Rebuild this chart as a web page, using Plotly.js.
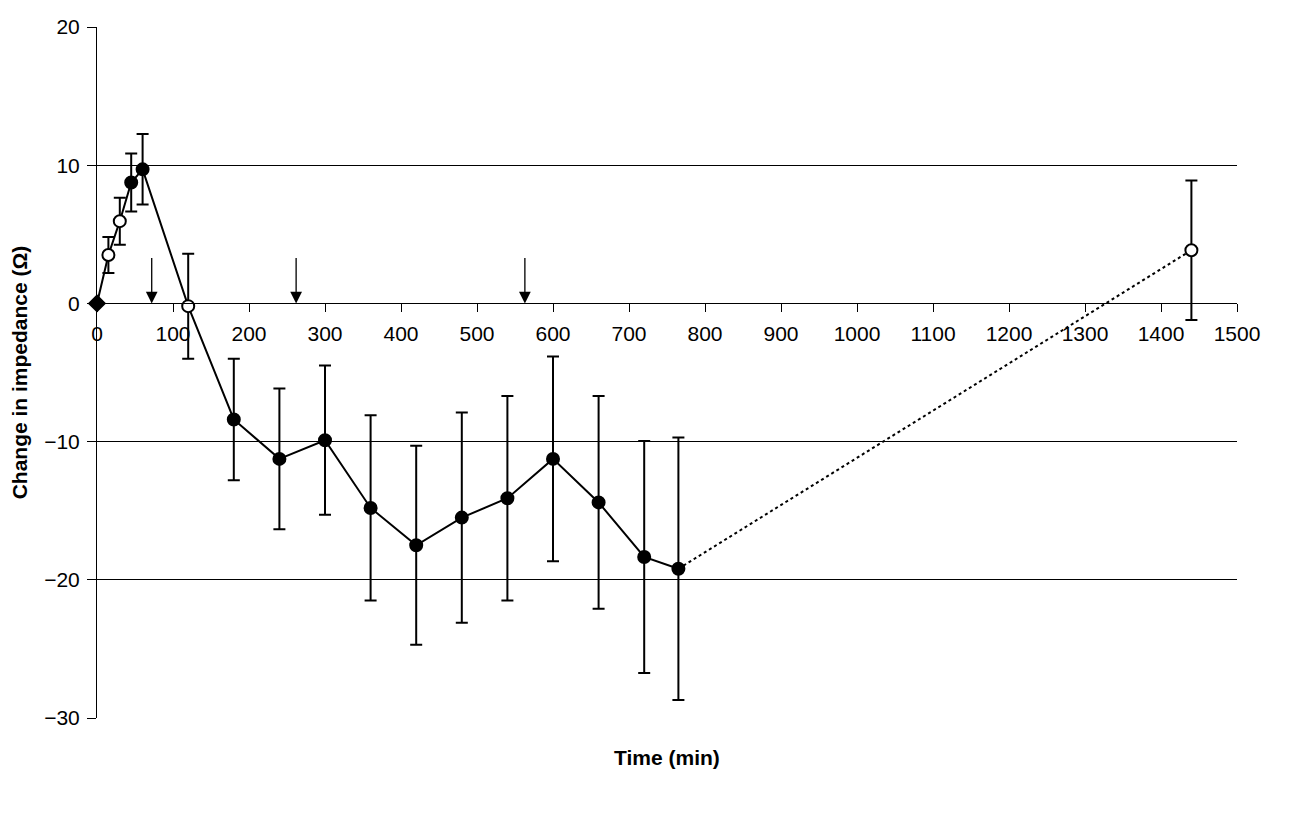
<!DOCTYPE html>
<html>
<head>
<meta charset="utf-8">
<script src="https://cdn.plot.ly/plotly-3.0.1.min.js"></script>
<style>html,body{margin:0;padding:0;background:#fff;}#chart{width:1312px;height:820px;}</style>
</head>
<body>
<div id="chart"></div>
<script>
// Data
var times   = [0, 15, 30, 45, 60, 120, 180, 240, 300, 360, 420, 480, 540, 600, 660, 720, 765, 1440];
var values  = [0, 3.5, 5.95, 8.75, 9.7, -0.2, -8.4, -11.25, -9.9, -14.8, -17.5, -15.5, -14.1, -11.25, -14.4, -18.35, -19.2, 3.85];
var errors  = [0, 1.3, 1.7, 2.1, 2.55, 3.8, 4.4, 5.1, 5.4, 6.7, 7.2, 7.6, 7.4, 7.4, 7.7, 8.4, 9.5, 5.05];
var filled  = [1, 0, 0, 1, 1, 0, 1, 1, 1, 1, 1, 1, 1, 1, 1, 1, 1, 0];
var arrowTimes = [72, 262, 563];
var xTicks = [0, 100, 200, 300, 400, 500, 600, 700, 800, 900, 1000, 1100, 1200, 1300, 1400, 1500];
var yTicks = [-30, -20, -10, 0, 10, 20];

var nSolid = 17; // points joined by solid line
var solidX = times.slice(0, nSolid), solidY = values.slice(0, nSolid);
var markerColors = filled.map(function(f){ return f ? '#000' : '#fff'; });
var markerSymbols = times.map(function(t, i){ return i === 0 ? 'diamond' : 'circle'; });
var markerSizes = times.map(function(t, i){ return i === 0 ? 12 : 12; });
var errArr = errors.map(function(e, i){ return i === 0 ? null : e; });

var FONT = 'Arial, Liberation Sans, sans-serif';

var traces = [
  { // solid line
    x: solidX, y: solidY, mode: 'lines', type: 'scatter',
    line: {color: '#000', width: 2}, hoverinfo: 'skip', showlegend: false
  },
  { // dotted segment
    x: [times[nSolid-1], times[nSolid]], y: [values[nSolid-1], values[nSolid]],
    mode: 'lines', type: 'scatter',
    line: {color: '#000', width: 2, dash: 'dot'}, hoverinfo: 'skip', showlegend: false
  },
  { // markers with error bars
    x: times, y: values, mode: 'markers', type: 'scatter', cliponaxis: false,
    error_y: {type: 'data', array: errArr, visible: true, color: '#000', thickness: 2, width: 6},
    marker: {color: markerColors, symbol: markerSymbols, size: markerSizes, opacity: 1,
             line: {color: '#000', width: 2}},
    showlegend: false
  }
];

var annotations = arrowTimes.map(function(t){
  return {x: t, y: 0, ax: t, ay: 3.4, xref: 'x', yref: 'y', axref: 'x', ayref: 'y',
          showarrow: true, arrowhead: 2, arrowsize: 1.8, arrowwidth: 1.3, arrowcolor: '#000', text: ''};
});
annotations.push({
  text: '<b>Time (min)</b>', xref: 'paper', yref: 'paper', x: 0.5, y: -0.037,
  xanchor: 'center', yanchor: 'top', showarrow: false,
  font: {family: FONT, size: 21, color: '#000'}
});

var layout = {
  width: 1312, height: 820,
  margin: {l: 97, r: 75, t: 27, b: 102},
  paper_bgcolor: '#fff', plot_bgcolor: '#fff',
  font: {family: FONT, size: 21, color: '#000'},
  xaxis: {
    range: [0, 1500], tickvals: xTicks, ticktext: xTicks.map(String),
    anchor: 'free', position: 0.6,
    showline: true, linecolor: '#000', linewidth: 1,
    ticks: 'outside', ticklen: 8, tickcolor: '#000', tickwidth: 1,
    ticklabelstandoff: 3,
    showgrid: false, zeroline: false,
    tickfont: {size: 21, color: '#000'}
  },
  yaxis: {
    range: [-30, 20], tickvals: yTicks,
    showline: true, linecolor: '#000', linewidth: 1,
    ticks: 'outside', ticklen: 9, tickcolor: '#000', tickwidth: 1,
    ticklabelstandoff: 3,
    showgrid: true, gridcolor: '#000', gridwidth: 1,
    zeroline: false,
    tickfont: {size: 21, color: '#000'},
    title: {text: '<b>Change in impedance (Ω)</b>', font: {size: 21, color: '#000'}, standoff: 10}
  },
  annotations: annotations
};

Plotly.newPlot('chart', traces, layout, {staticPlot: true});
</script>
</body>
</html>
